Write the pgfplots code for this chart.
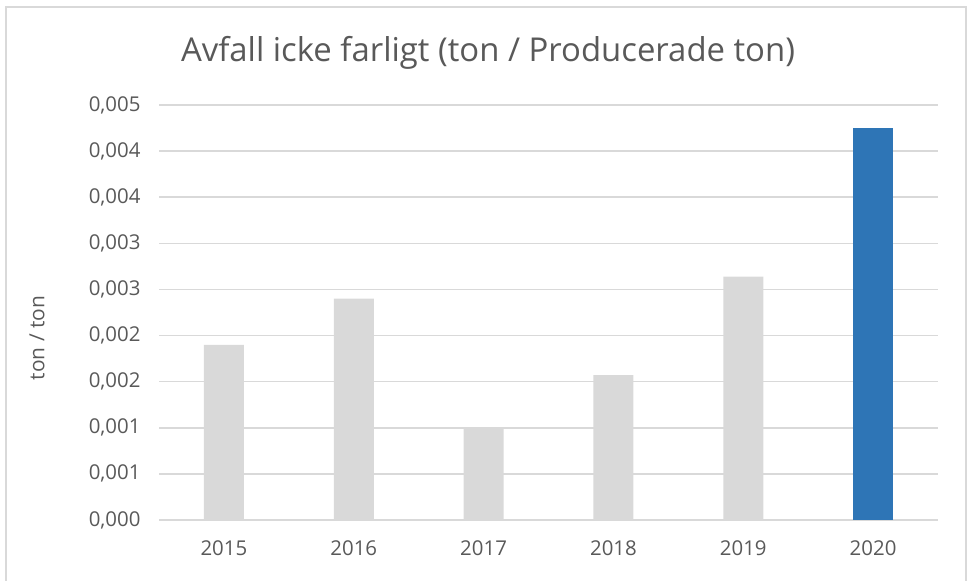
\documentclass[border=0pt]{standalone}
\usepackage{pgfplots}
\pgfplotsset{compat=1.18}
\usepackage{fontspec}
\setmainfont{Open Sans}
\definecolor{txt}{HTML}{595959}
\definecolor{gridc}{HTML}{D9D9D9}
\definecolor{barg}{HTML}{D9D9D9}
\definecolor{barb}{HTML}{2E75B6}
\begin{document}
\begin{tikzpicture}[x=1bp,y=1bp]
\path[use as bounding box] (0,0) rectangle (968,581);
\draw[gridc, line width=2bp] (6,-5) -- (6,574) -- (966,574) -- (966,-5);
\begin{axis}[
  at={(159bp,61bp)}, anchor=south west,
  scale only axis, width=779bp, height=415bp,
  xmin=-0.5, xmax=5.5, ymin=0, ymax=0.0045,
  axis line style={draw=none},
  major tick length=0pt,
  xtick={0,1,2,3,4,5},
  xticklabels={2015,2016,2017,2018,2019,2020},
  ytick={0,0.0005,0.001,0.0015,0.002,0.0025,0.003,0.0035,0.004,0.0045},
  yticklabels={{0,000},{0,001},{0,001},{0,002},{0,002},{0,003},{0,003},{0,004},{0,004},{0,005}},
  scaled y ticks=false,
  ymajorgrids, xmajorgrids=false,
  grid style={draw=gridc, line width=1.5bp},
  ticklabel style={font=\fontsize{20.5}{25}\selectfont, text=txt},
  yticklabel style={xshift=-15bp},
  xticklabel style={yshift=-17bp},
  ybar, bar width=40bp, bar shift=0pt,
  clip=false,
]
\addplot[fill=barg, draw=none] coordinates {(0,0.0019) (1,0.0024) (2,0.0010) (3,0.00157) (4,0.00264)};
\addplot[fill=barb, draw=none] coordinates {(5,0.00425)};
\end{axis}
\node[text=txt, font=\fontsize{33}{38}\selectfont] at (488,528) {Avfall icke farligt (ton / Producerade ton)};
\node[text=txt, font=\fontsize{21}{25}\selectfont, rotate=90] at (37,243) {ton / ton};
\end{tikzpicture}
\end{document}
